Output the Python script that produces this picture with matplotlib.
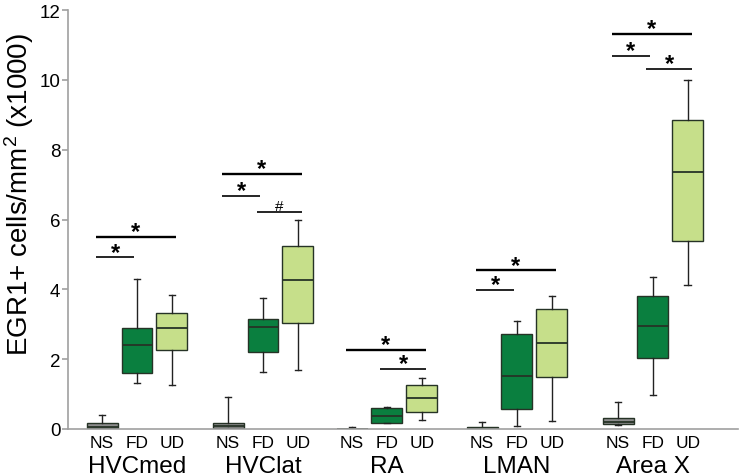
import matplotlib
matplotlib.use('Agg')
import matplotlib.pyplot as plt

plt.rcParams['font.family'] = ['Liberation Sans', 'DejaVu Sans']
plt.rcParams['mathtext.fontset'] = 'custom'
plt.rcParams['mathtext.rm'] = 'Liberation Sans'
plt.rcParams['mathtext.it'] = 'Liberation Sans:italic'
plt.rcParams['mathtext.bf'] = 'Liberation Sans:bold'

regions = ['HVCmed', 'HVClat', 'RA', 'LMAN', 'Area X']
conditions = ['NS', 'FD', 'UD']

# rows = regions; values = [whisker low, q1, median, q3, whisker high] (x1000 cells/mm2)
ns_stats = [
    [0.00, 0.03, 0.06, 0.17, 0.40],
    [0.00, 0.02, 0.08, 0.16, 0.92],
    [0.00, 0.00, 0.00, 0.01, 0.07],
    [0.00, 0.00, 0.02, 0.05, 0.21],
    [0.12, 0.14, 0.21, 0.31, 0.76],
]
fd_stats = [
    [1.31, 1.60, 2.41, 2.90, 4.29],
    [1.62, 2.20, 2.93, 3.14, 3.76],
    [0.16, 0.18, 0.38, 0.59, 0.64],
    [0.09, 0.57, 1.52, 2.72, 3.09],
    [0.98, 2.02, 2.95, 3.82, 4.35],
]
ud_stats = [
    [1.26, 2.25, 2.90, 3.31, 3.84],
    [1.69, 3.04, 4.27, 5.24, 6.00],
    [0.27, 0.48, 0.89, 1.26, 1.45],
    [0.22, 1.48, 2.46, 3.43, 3.81],
    [4.13, 5.37, 7.35, 8.86, 10.00],
]

# significance brackets: (region index, from, to, height, label)
sig_region = [0, 0, 1, 1, 1, 2, 2, 3, 3, 4, 4, 4]
sig_from = ['NS', 'NS', 'NS', 'NS', 'FD', 'NS', 'FD', 'NS', 'NS', 'NS', 'NS', 'FD']
sig_to = ['UD', 'FD', 'UD', 'FD', 'UD', 'UD', 'UD', 'UD', 'FD', 'UD', 'FD', 'UD']
sig_height = [5.50, 4.92, 7.31, 6.67, 6.22, 2.26, 1.72, 4.54, 3.99, 11.31, 10.69, 10.31]
sig_label = ['*', '*', '*', '*', '#', '*', '*', '*', '*', '*', '*', '*']

yticks = [0, 2, 4, 6, 8, 10, 12]

# ---- layout ----
group_pos = [0.0, 0.977, 1.938, 2.946, 4.0]
offsets = {'NS': -0.27, 'FD': 0.0, 'UD': 0.27}
colors = {'NS': '#8c8c8c', 'FD': '#0a7f3f', 'UD': '#c6df8a'}
stats_by_cond = {'NS': ns_stats, 'FD': fd_stats, 'UD': ud_stats}

fig = plt.figure(figsize=(7.52, 4.77), dpi=100)
ax = fig.add_axes([68 / 752, 1 - 430 / 477, (738 - 68) / 752, (430 - 11) / 477])

edge = '#263326'
for cond in conditions:
    bstats = []
    positions = []
    for i, r in enumerate(regions):
        lo, q1, med, q3, hi = stats_by_cond[cond][i]
        bstats.append(dict(whislo=lo, q1=q1, med=med, q3=q3, whishi=hi, fliers=[], label=''))
        positions.append(group_pos[i] + offsets[cond])
    ax.bxp(bstats, positions=positions, widths=0.24, patch_artist=True, showfliers=False,
           boxprops=dict(facecolor=colors[cond], edgecolor=edge, linewidth=1.0),
           medianprops=dict(color=edge, linewidth=1.3),
           whiskerprops=dict(color='#222222', linewidth=1.0),
           capprops=dict(color='#222222', linewidth=1.0),
           capwidths=0.05, manage_ticks=False)

for reg, a, b, h, lab in zip(sig_region, sig_from, sig_to, sig_height, sig_label):
    x0 = group_pos[reg] + offsets[a] - 0.05
    x1 = group_pos[reg] + offsets[b] + (0.03 if b == 'UD' else -0.02)
    long_line = (a == 'NS' and b == 'UD')
    ax.plot([x0, x1], [h, h], color='black', lw=1.7 if long_line else 1.2,
            solid_capstyle='butt', clip_on=False)
    xc = (x0 + x1) / 2
    if lab == '*':
        ax.annotate(lab, (xc, h), xytext=(0, -1.0), textcoords='offset points',
                    ha='center', va='baseline', fontsize=17, fontweight='bold')
    else:
        ax.annotate(lab, (xc, h), xytext=(0, 1.5), textcoords='offset points',
                    ha='center', va='baseline', fontsize=11)

# condition labels and region labels
for i, r in enumerate(regions):
    for cond in conditions:
        ax.annotate(cond, (group_pos[i] + offsets[cond], 0), xycoords=('data', 'axes fraction'),
                    xytext=(0, -9.5), textcoords='offset points', ha='center', va='center',
                    fontsize=12.5)
    ax.annotate(r, (group_pos[i], 0), xycoords=('data', 'axes fraction'),
                xytext=(0, -27), textcoords='offset points', ha='center', va='center',
                fontsize=17.5)

ax.set_xlim(-0.535, 4.66)
ax.set_ylim(0, 12)
ax.set_yticks(yticks)
ax.set_yticklabels([str(t) for t in yticks], fontsize=13.5)
ax.set_xticks([])
for s in ['top', 'right']:
    ax.spines[s].set_visible(False)
ax.spines['left'].set_color('#a0a0a0')
ax.spines['bottom'].set_color('#a0a0a0')
ax.spines['left'].set_linewidth(1.2)
ax.spines['bottom'].set_linewidth(1.2)
ax.tick_params(axis='y', colors='#a0a0a0', length=4, width=1.2, pad=1.5, labelcolor='black')
ax.patch.set_alpha(0)

fig.text(19 / 752, 1 - 195 / 477, 'EGR1+ cells/mm$^2$ (x1000)', rotation=90,
         ha='center', va='center', fontsize=20)

fig.savefig('out.png', dpi=100)
